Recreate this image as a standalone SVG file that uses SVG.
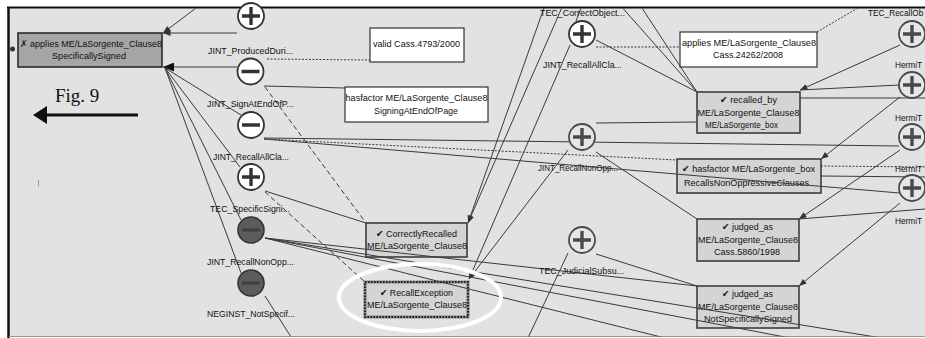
<svg xmlns="http://www.w3.org/2000/svg" width="925" height="338" viewBox="0 0 925 338">
  <style>
    .t { font-family: "Liberation Sans", "DejaVu Sans", sans-serif; font-size: 9.5px; fill: #111; text-anchor: middle; }
    .ts { font-family: "Liberation Sans", "DejaVu Sans", sans-serif; font-size: 8.3px; fill: #111; }
    .fig { font-family: "Liberation Serif", "DejaVu Serif", serif; font-size: 19px; fill: #111; }
    .bn { fill: #d4d4d4; stroke: #333; stroke-width: 1.5; }
    .bw { fill: #fff; stroke: #333; stroke-width: 1.2; }
    .bl { fill: #a5a5a5; stroke: #222; stroke-width: 1.5; }
    .cw { fill: #fff; stroke: #333; stroke-width: 1.8; }
    .cg { fill: #e6e6e6; stroke: #4a4a4a; stroke-width: 1.8; }
    .cd { fill: #5c5c5c; stroke: #333; stroke-width: 1.6; }
    .sy { stroke: #333; stroke-width: 3.4; fill: none; }
    .syg { stroke: #4a4a4a; stroke-width: 3.4; fill: none; }
    .syd { stroke: #404040; stroke-width: 3.2; fill: none; }
    .ln { stroke: #3a3a3a; stroke-width: 1; fill: none; }
    .dt { stroke-dasharray: 2 1.5; }
    .ds { stroke-dasharray: 5 3; }
  </style>
  <defs>
    <clipPath id="panel"><rect x="9.5" y="8.5" width="916" height="328"/></clipPath>
    <marker id="ah" viewBox="0 0 10 8" refX="10" refY="4" markerWidth="9" markerHeight="6" orient="auto" markerUnits="userSpaceOnUse">
      <path d="M0,0L10,4L0,8z" fill="#333"/>
    </marker>
    <marker id="ahb" viewBox="0 0 10 8" refX="10" refY="4" markerWidth="11" markerHeight="9" orient="auto" markerUnits="userSpaceOnUse">
      <path d="M0,0L10,4L0,8z" fill="#111"/>
    </marker>
    <path id="plus" d="M-9,0H9M0,-9V9"/>
    <path id="minus" d="M-9,0H9"/>
  </defs>

  <!-- canvas and frame -->
  <rect x="0" y="0" width="925" height="338" fill="#fff"/>
  <rect x="8" y="7" width="917" height="330" fill="#e2e2e2"/>
  <line x1="7" y1="7.5" x2="925" y2="7.5" stroke="#111" stroke-width="2"/>
  <line x1="8.5" y1="7" x2="8.5" y2="338" stroke="#111" stroke-width="2.5"/>
  <line x1="9" y1="336.5" x2="925" y2="336.5" stroke="#999" stroke-width="1"/>

  <!-- figure caption and arrow -->
  <text class="fig" x="55" y="102">Fig. 9</text>
  <line x1="45" y1="115" x2="138" y2="115" stroke="#111" stroke-width="3"/>
  <path d="M33,115L47,106L47,124z" fill="#111"/>
  <line x1="38.5" y1="180" x2="38.5" y2="186" stroke="#999" stroke-width="1"/>

  <g clip-path="url(#panel)">
    <!-- rectangular nodes -->
    <g id="n-applies-specsigned">
      <circle cx="12.5" cy="49" r="2.5" fill="#333"/>
      <rect class="bl" x="18" y="33" width="144" height="34"/>
      <text class="t" x="91" y="46.5" textLength="142" lengthAdjust="spacingAndGlyphs">✗ applies ME/LaSorgente_Clause8</text>
      <text class="t" x="89" y="58.5" textLength="74" lengthAdjust="spacingAndGlyphs">SpecificallySigned</text>
    </g>
    <g id="n-valid-cass4793">
      <rect class="bw" x="370" y="28" width="94" height="34"/>
      <text class="t" x="416.5" y="46.5" textLength="87" lengthAdjust="spacingAndGlyphs">valid Cass.4793/2000</text>
    </g>
    <g id="n-hasfactor-signing">
      <rect class="bw" x="345" y="87" width="143" height="35"/>
      <text class="t" x="416.5" y="100.5" textLength="142" lengthAdjust="spacingAndGlyphs">hasfactor ME/LaSorgente_Clause8</text>
      <text class="t" x="416" y="113.5" textLength="84" lengthAdjust="spacingAndGlyphs">SigningAtEndOfPage</text>
    </g>
    <g id="n-applies-cass24262">
      <rect class="bw" x="680" y="32" width="137" height="35"/>
      <text class="t" x="749" y="45.5" textLength="134" lengthAdjust="spacingAndGlyphs">applies ME/LaSorgente_Clause8</text>
      <text class="t" x="748" y="57.5" textLength="70" lengthAdjust="spacingAndGlyphs">Cass.24262/2008</text>
    </g>
    <g id="n-recalled-by">
      <rect class="bn" x="697" y="92" width="103" height="41"/>
      <text class="t" x="748.5" y="102.5" textLength="57" lengthAdjust="spacingAndGlyphs">✔ recalled_by</text>
      <text class="t" x="748.5" y="115.5" textLength="102" lengthAdjust="spacingAndGlyphs">ME/LaSorgente_Clause8</text>
      <text class="t" x="741.5" y="127.5" textLength="73" lengthAdjust="spacingAndGlyphs">ME/LaSorgente_box</text>
    </g>
    <g id="n-hasfactor-box">
      <rect class="bn" x="677" y="159" width="144" height="34"/>
      <text class="t" x="748.5" y="171.5" textLength="133" lengthAdjust="spacingAndGlyphs">✔ hasfactor ME/LaSorgente_box</text>
      <text class="t" x="746.5" y="185.5" textLength="125" lengthAdjust="spacingAndGlyphs">RecallsNonOppressiveClauses</text>
    </g>
    <g id="n-judged-cass5860">
      <rect class="bn" x="697" y="219" width="102" height="42"/>
      <text class="t" x="747.5" y="229.5" textLength="51" lengthAdjust="spacingAndGlyphs">✔ judged_as</text>
      <text class="t" x="748" y="242.5" textLength="100" lengthAdjust="spacingAndGlyphs">ME/LaSorgente_Clause8</text>
      <text class="t" x="747" y="254.5" textLength="66" lengthAdjust="spacingAndGlyphs">Cass.5860/1998</text>
    </g>
    <g id="n-judged-notspec">
      <rect class="bn" x="697" y="286" width="102" height="42"/>
      <text class="t" x="747.5" y="296.5" textLength="51" lengthAdjust="spacingAndGlyphs">✔ judged_as</text>
      <text class="t" x="748" y="309.5" textLength="100" lengthAdjust="spacingAndGlyphs">ME/LaSorgente_Clause8</text>
      <text class="t" x="748" y="321.5" textLength="88" lengthAdjust="spacingAndGlyphs">NotSpecificallySigned</text>
    </g>
    <g id="n-correctly-recalled">
      <rect class="bn" x="366" y="223" width="101" height="34"/>
      <text class="t" x="416.5" y="236.5" textLength="81" lengthAdjust="spacingAndGlyphs">✔ CorrectlyRecalled</text>
      <text class="t" x="417" y="248.5" textLength="100" lengthAdjust="spacingAndGlyphs">ME/LaSorgente_Clause8</text>
    </g>
    <g id="n-recall-exception">
      <rect x="365" y="282" width="103" height="35" fill="#d4d4d4" stroke="#888" stroke-width="3"/>
      <rect x="365" y="282" width="103" height="35" fill="none" stroke="#222" stroke-width="2.2" stroke-dasharray="1.6 1.4"/>
      <text class="t" x="416.5" y="295.5" textLength="73" lengthAdjust="spacingAndGlyphs">✔ RecallException</text>
      <text class="t" x="417" y="307.5" textLength="100" lengthAdjust="spacingAndGlyphs">ME/LaSorgente_Clause8</text>
    </g>

    <!-- connectors -->
    <g id="connectors" class="ln">
      <path d="M200,5L163,33" marker-end="url(#ah)"/>
      <path d="M237,33L163,33" marker-end="url(#ah)"/>
      <path d="M237,67L163,67" marker-end="url(#ahb)"/>
      <path d="M241,115L165,68"/>
      <path d="M240,167L165,68"/>
      <path d="M241,220L165,68"/>
      <path d="M241,273L165,68"/>
      <path class="dt" d="M267,59L370,60"/>
      <path d="M264,86L345,88"/>
      <path class="ds" d="M265,87L366,223"/>
      <path d="M264,138L899,146"/>
      <path class="dt" d="M264,139L677,160"/>
      <path d="M264,139L923,195"/>
      <path d="M265,191L366,223"/>
      <path class="ds" d="M265,192L365,282"/>
      <path d="M265,238L925,345"/>
      <path d="M265,238L790,338"/>
      <path d="M265,238L665,338"/>
      <path d="M265,238L697,286"/>
      <path d="M265,296L293,340"/>
      <path d="M545,5L468,223" marker-end="url(#ah)"/>
      <path d="M563,5L468,223" marker-end="url(#ah)"/>
      <path d="M570,45L469,279" marker-end="url(#ah)"/>
      <path d="M568,150L469,279" marker-end="url(#ah)"/>
      <path d="M596,40L697,92"/>
      <path class="dt" d="M596,47L680,47"/>
      <path d="M596,123L697,122"/>
      <path d="M596,152L697,219"/>
      <path d="M596,254L697,286"/>
      <path d="M568,253L527,340"/>
      <path d="M620,5L697,92"/>
      <path d="M640,5L697,92"/>
      <path d="M576,21L581,8"/>
      <path d="M900,45L800,90" marker-end="url(#ah)"/>
      <path d="M899,85L800,90"/>
      <path d="M800,98L925,98"/>
      <path d="M900,97L821,159" marker-end="url(#ah)"/>
      <path d="M900,150L799,219" marker-end="url(#ah)"/>
      <path d="M925,209L799,219"/>
      <path d="M900,203L799,286" marker-end="url(#ah)"/>
      <path class="dt" d="M821,166L925,167"/>
      <path d="M821,176L925,177"/>
      <path class="dt" d="M817,32L863,5"/>
    </g>

    <!-- circular nodes -->
    <g id="c-jint-produced">
      <circle class="cw" cx="250.5" cy="71.5" r="13"/>
      <use href="#minus" class="sy" x="250.5" y="71.5"/>
      <text class="t" x="250.5" y="53.5" textLength="85" lengthAdjust="spacingAndGlyphs">JINT_ProducedDuri...</text>
    </g>
    <g id="c-jint-signatend">
      <circle class="cw" cx="251" cy="125" r="13"/>
      <use href="#minus" class="sy" x="251" y="125"/>
      <text class="t" x="250.5" y="106.5" textLength="87" lengthAdjust="spacingAndGlyphs">JINT_SignAtEndOfP...</text>
    </g>
    <g id="c-tec-specific">
      <circle class="cw" cx="251" cy="177" r="13"/>
      <use href="#plus" class="sy" x="251" y="177"/>
      <text class="t" x="251" y="159.5" textLength="76" lengthAdjust="spacingAndGlyphs">JINT_RecallAllCla...</text>
    </g>
    <g id="c-jint-recallnonopp-l">
      <circle class="cd" cx="251" cy="230" r="13"/>
      <use href="#minus" class="syd" x="251" y="230"/>
      <text class="t" x="250" y="211.5" textLength="80" lengthAdjust="spacingAndGlyphs">TEC_SpecificSigni...</text>
    </g>
    <g id="c-neginst">
      <circle class="cd" cx="251" cy="283" r="13"/>
      <use href="#minus" class="syd" x="251" y="283"/>
      <text class="t" x="250.5" y="264.5" textLength="87" lengthAdjust="spacingAndGlyphs">JINT_RecallNonOpp...</text>
      <text class="t" x="251" y="316.5" textLength="88" lengthAdjust="spacingAndGlyphs">NEGINST_NotSpecif...</text>
    </g>
    <g id="c-tec-correctobject">
      <text class="t" x="582.5" y="15.5" textLength="85" lengthAdjust="spacingAndGlyphs">TEC_CorrectObject...</text>
      <circle class="cw" cx="582" cy="34" r="13"/>
      <use href="#plus" class="sy" x="582" y="34"/>
      <text class="t" x="582.5" y="67.5" textLength="79" lengthAdjust="spacingAndGlyphs">JINT_RecallAllCla...</text>
    </g>
    <g id="c-jint-recallnonopp-m">
      <circle class="cg" cx="582" cy="137" r="13"/>
      <use href="#plus" class="syg" x="582" y="137"/>
      <text class="t" x="578" y="170.5" textLength="80" lengthAdjust="spacingAndGlyphs">JINT_RecallNonOpp...</text>
    </g>
    <g id="c-tec-judicial">
      <circle class="cg" cx="582" cy="240" r="13"/>
      <use href="#plus" class="syg" x="582" y="240"/>
      <text class="t" x="581.5" y="273.5" textLength="85" lengthAdjust="spacingAndGlyphs">TEC_JudicialSubsu...</text>
    </g>
    <g id="c-tec-recallob">
      <text class="ts" x="868" y="15.5">TEC_RecallOb</text>
      <circle class="cg" cx="912" cy="34" r="13"/>
      <use href="#plus" class="syg" x="912" y="34"/>
      <text class="ts" x="895" y="67.5">HermiT</text>
    </g>
    <g id="c-hermit-1">
      <circle class="cg" cx="912" cy="85" r="13"/>
      <use href="#plus" class="syg" x="912" y="85"/>
      <text class="ts" x="895" y="120.5">HermiT</text>
    </g>
    <g id="c-hermit-2">
      <circle class="cg" cx="912" cy="137" r="13"/>
      <use href="#plus" class="syg" x="912" y="137"/>
      <text class="ts" x="895" y="171.5">HermiT</text>
    </g>
    <g id="c-hermit-3">
      <circle class="cg" cx="912" cy="188" r="13"/>
      <use href="#plus" class="syg" x="912" y="188"/>
      <text class="ts" x="895" y="223.5">HermiT</text>
    </g>

    <!-- highlight ring -->
    <ellipse cx="420" cy="297.5" rx="81" ry="33.5" fill="none" stroke="#fff" stroke-width="4"/>
  </g>

  <!-- top circle drawn across the frame edge -->
  <g id="c-jint-top">
    <circle class="cw" cx="251" cy="16" r="13"/>
    <use href="#plus" class="sy" x="251" y="16"/>
  </g>
</svg>
